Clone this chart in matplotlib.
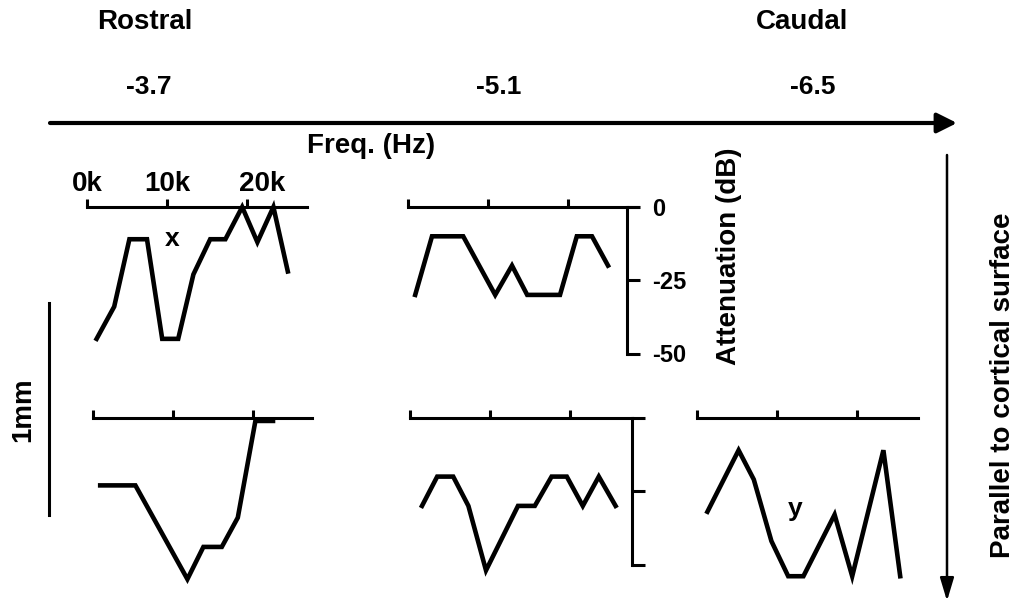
import numpy as np
import matplotlib.pyplot as plt

plt.rcParams['font.family'] = ['Liberation Sans', 'DejaVu Sans']
plt.rcParams['font.weight'] = 'bold'

# frequency (kHz) / attenuation (dB)
f1 = [1.2, 3.4, 5.3, 7.5, 9.4, 11.4, 13.3, 15.4, 17.3, 19.4, 21.3, 23.3, 25.1]
a1 = [-45, -34, -11, -11, -45, -45, -23, -11, -11, 0, -12, 0, -22]

f2 = [0.9, 3.0, 6.9, 10.9, 13.0, 14.9, 19.0, 21.1, 23.0, 25.0]
a2 = [-30, -10, -10, -30, -20, -30, -30, -10, -10, -20]

f3 = [0.9, 5.3, 11.8, 13.8, 16.1, 18.1, 20.3, 22.5]
a3 = [-23, -23, -55, -44, -44, -34, -1, -1]

f4 = [1.5, 3.4, 5.4, 7.3, 9.5, 13.5, 15.6, 17.7, 19.6, 21.6, 23.6, 25.7]
a4 = [-30, -20, -20, -30, -52, -30, -30, -20, -20, -30, -20, -30]

f5 = [1.3, 5.2, 7.1, 9.3, 11.4, 13.3, 17.2, 19.4, 23.3, 25.4]
a5 = [-32, -11, -21, -42, -54, -54, -33, -54, -11, -54]

freq_ticks = [0, 10, 20]
db_ticks = [0, -25, -50]
db_labels = ['0', '-25', '-50']
sections = ['-3.7', '-5.1', '-6.5']

W, H = 1021, 603
fig = plt.figure(figsize=(W / 100, H / 100), dpi=100)

# background axes in pixel units for labels and arrows
ax0 = fig.add_axes([0, 0, 1, 1])
ax0.set_xlim(0, W)
ax0.set_ylim(H, 0)
ax0.axis('off')


def panel(x0, y0, fmax, f, a):
    # x0, y0: pixel position of (0 kHz, 0 dB); 8 px per kHz, 2.93 px per dB
    w = fmax * 8.0
    h = 60 * 2.93
    ax = fig.add_axes([x0 / W, 1 - (y0 + h) / H, w / W, h / H])
    ax.set_xlim(0, fmax)
    ax.set_ylim(-60, 0)
    ax.patch.set_alpha(0)
    for s in ['left', 'right', 'bottom']:
        ax.spines[s].set_visible(False)
    ax.spines['top'].set_linewidth(2.2)
    ax.xaxis.set_ticks_position('top')
    ax.set_xticks(freq_ticks)
    ax.tick_params(axis='x', direction='out', length=6, width=2.2, labeltop=False)
    ax.set_yticks([])
    ax.plot(f, a, color='black', lw=3.3, solid_joinstyle='miter', clip_on=False)
    return ax


ax1 = panel(87, 207, 27.5, f1, a1)
ax2 = panel(408, 207, 28.75, f2, a2)
ax3 = panel(93, 418, 27.4, f3, a3)
ax4 = panel(410, 418, 27.8, f4, a4)
ax5 = panel(697, 418, 27.6, f5, a5)

# frequency labels on first panel
for x, lab in zip([0.1, 10, 21.9], ['0k', '10k', '20k']):
    ax1.text(x, 3.5, lab, ha='center', va='bottom', fontsize=20, fontweight='bold')

# attenuation scale on panel 2 and panel 4
for ax, xpos, labels in [(ax2, 27.4, True), (ax4, 27.8, False)]:
    ax.spines['right'].set_visible(True)
    ax.spines['right'].set_position(('data', xpos))
    ax.spines['right'].set_bounds(-50, 0)
    ax.spines['right'].set_linewidth(2.2)
    ax.yaxis.set_ticks_position('right')
    ax.set_yticks(db_ticks)
    ax.tick_params(axis='y', direction='out', length=9, width=2.2,
                   labelright=labels, labelsize=17, pad=9)
    if labels:
        ax.set_yticklabels(db_labels, fontweight='bold')

ax1.text(10.6, -11, 'x', ha='center', va='center', fontsize=19, fontweight='bold')
ax5.text(12.3, -31, 'y', ha='center', va='center', fontsize=19, fontweight='bold')

# header texts
ax0.text(145, 22, 'Rostral', ha='center', va='center', fontsize=20, fontweight='bold')
ax0.text(802, 22, 'Caudal', ha='center', va='center', fontsize=20, fontweight='bold')
for x, s in zip([149, 499, 813], sections):
    ax0.text(x, 87, s, ha='center', va='center', fontsize=19, fontweight='bold')

ax0.annotate('', xy=(957, 123), xytext=(50, 123),
             arrowprops=dict(arrowstyle='-|>,head_length=0.6,head_width=0.3',
                             mutation_scale=20, lw=3, color='black',
                             shrinkA=0, shrinkB=0))
ax0.text(371, 146, 'Freq. (Hz)', ha='center', va='center', fontsize=20, fontweight='bold')
ax0.text(729, 256, 'Attenuation (dB)', ha='center', va='center', rotation=90,
         fontsize=20, fontweight='bold')

# vertical arrow and label
ax0.annotate('', xy=(947, 601), xytext=(947, 155),
             arrowprops=dict(arrowstyle='-|>,head_length=1.0,head_width=0.3',
                             mutation_scale=14, lw=1.8, color='black',
                             shrinkA=0, shrinkB=0))
ax0.text(1003, 385, 'Parallel to cortical surface', ha='center', va='center',
         rotation=90, fontsize=20, fontweight='bold')

# 1 mm scale bar
ax0.plot([49, 49], [303, 515], color='black', lw=2.2)
ax0.text(23, 410, '1mm', ha='center', va='center', rotation=90, fontsize=20,
         fontweight='bold')

fig.savefig('out.png', dpi=100)
